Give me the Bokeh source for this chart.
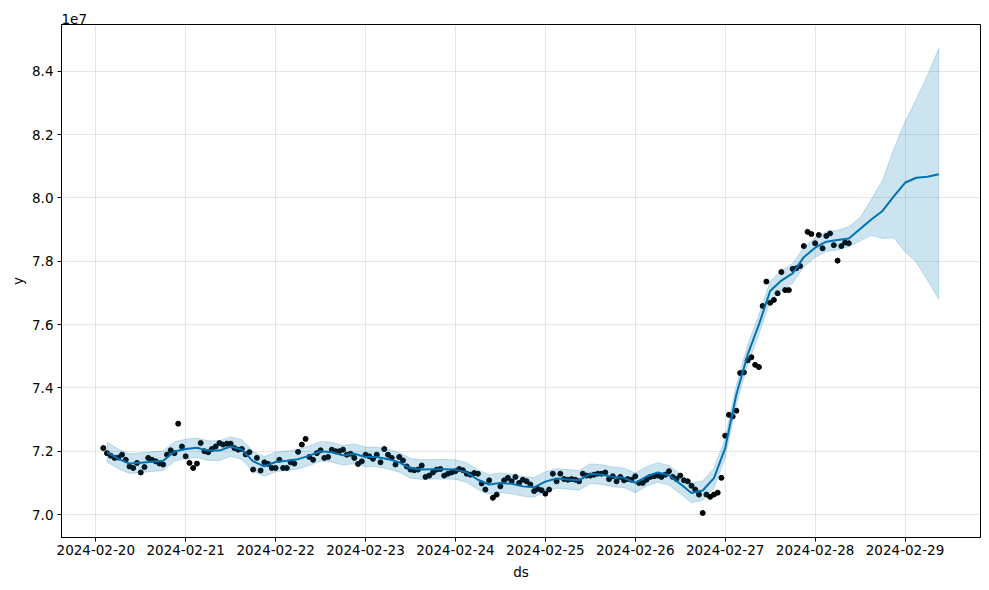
import pandas as pd
from bokeh.plotting import figure
from bokeh.models import FixedTicker, DatetimeTickFormatter, PrintfTickFormatter, Range1d
from bokeh.embed import file_html
from bokeh.resources import INLINE

# ---------------- data (values in units of 1e7) ----------------
obs_start = "2024-02-20 02:00"          # hourly observations
y_obs = [
    7.210, 7.194, 7.186, 7.179, 7.180, 7.189, 7.173, 7.152, 7.147, 7.163,
    7.133, 7.150, 7.179, 7.173, 7.168, 7.161, 7.158, 7.189, 7.203, 7.194,
    7.287, 7.215, 7.184, 7.163, 7.147, 7.161, 7.226, 7.200, 7.197, 7.207,
    7.215, 7.226, 7.221, 7.224, 7.224, 7.210, 7.205, 7.207, 7.190, 7.197,
    7.142, 7.179, 7.139, 7.165, 7.160, 7.147, 7.147, 7.173, 7.147, 7.147,
    7.165, 7.161, 7.198, 7.221, 7.239, 7.182, 7.173, 7.194, 7.203, 7.179,
    7.182, 7.205, 7.200, 7.200, 7.205, 7.189, 7.192, 7.179, 7.160, 7.168,
    7.189, 7.184, 7.176, 7.189, 7.165, 7.207, 7.189, 7.179, 7.158, 7.182,
    7.171, 7.152, 7.142, 7.140, 7.142, 7.155, 7.119, 7.123, 7.133, 7.142,
    7.144, 7.123, 7.129, 7.133, 7.137, 7.144, 7.140, 7.129, 7.126, 7.131,
    7.129, 7.098, 7.079, 7.108, 7.053, 7.063, 7.089, 7.108, 7.116, 7.105,
    7.119, 7.100, 7.110, 7.105, 7.095, 7.074, 7.081, 7.077, 7.066, 7.079,
    7.129, 7.105, 7.129, 7.112, 7.110, 7.112, 7.110, 7.105, 7.129, 7.123,
    7.123, 7.126, 7.129, 7.129, 7.133, 7.112, 7.121, 7.105, 7.119, 7.108,
    7.112, 7.110, 7.121, 7.100, 7.100, 7.110, 7.119, 7.121, 7.123, 7.119,
    7.126, 7.137, 7.119, 7.112, 7.123, 7.108, 7.105, 7.091, 7.079, 7.063,
    7.005, 7.063, 7.056, 7.063, 7.069, 7.116, 7.249, 7.315, 7.310, 7.328,
    7.447, 7.449, 7.487, 7.497, 7.473, 7.466, 7.659, 7.736, 7.669, 7.678,
    7.699, 7.766, 7.709, 7.709, 7.776, 7.778, 7.785, 7.848, 7.893, 7.886,
    7.857, 7.883, 7.841, 7.880, 7.888, 7.851, 7.802, 7.848, 7.859, 7.857,
]

fc_start = "2024-02-20 03:00"           # forecast every 3 hours
yhat = [
    7.197, 7.176, 7.161, 7.164, 7.167, 7.170, 7.199, 7.207, 7.211, 7.202,
    7.202, 7.215, 7.205, 7.168, 7.152, 7.166, 7.170, 7.175, 7.186, 7.200,
    7.197, 7.187, 7.192, 7.182, 7.182, 7.175, 7.165, 7.146, 7.142, 7.143,
    7.143, 7.142, 7.133, 7.110, 7.095, 7.100, 7.097, 7.089, 7.086, 7.104,
    7.114, 7.111, 7.108, 7.129, 7.126, 7.119, 7.116, 7.100, 7.120, 7.133,
    7.124, 7.097, 7.068, 7.076, 7.115, 7.210, 7.380, 7.505, 7.600, 7.706,
    7.739, 7.762, 7.813, 7.843, 7.862, 7.867, 7.872, 7.902, 7.932, 7.959,
    8.005, 8.048, 8.064, 8.067, 8.075,
]
yhat_upper = [
    7.228, 7.207, 7.192, 7.195, 7.198, 7.201, 7.230, 7.238, 7.242, 7.233,
    7.233, 7.246, 7.236, 7.199, 7.183, 7.197, 7.201, 7.206, 7.217, 7.231,
    7.228, 7.218, 7.223, 7.213, 7.213, 7.206, 7.196, 7.177, 7.173, 7.174,
    7.174, 7.173, 7.164, 7.141, 7.126, 7.131, 7.128, 7.120, 7.117, 7.135,
    7.145, 7.142, 7.139, 7.160, 7.157, 7.150, 7.147, 7.131, 7.151, 7.164,
    7.155, 7.128, 7.099, 7.107, 7.146, 7.241, 7.411, 7.536, 7.631, 7.737,
    7.770, 7.793, 7.844, 7.874, 7.893, 7.898, 7.909, 7.938, 7.995, 8.056,
    8.155, 8.240, 8.312, 8.388, 8.472,
]
yhat_lower = [
    7.166, 7.145, 7.130, 7.133, 7.136, 7.139, 7.168, 7.176, 7.180, 7.171,
    7.171, 7.184, 7.174, 7.137, 7.121, 7.135, 7.139, 7.144, 7.155, 7.169,
    7.166, 7.156, 7.161, 7.151, 7.151, 7.144, 7.134, 7.115, 7.111, 7.112,
    7.112, 7.111, 7.102, 7.079, 7.064, 7.069, 7.066, 7.058, 7.055, 7.073,
    7.083, 7.080, 7.077, 7.098, 7.095, 7.088, 7.085, 7.069, 7.089, 7.102,
    7.093, 7.066, 7.037, 7.045, 7.084, 7.179, 7.349, 7.474, 7.569, 7.675,
    7.708, 7.731, 7.782, 7.812, 7.831, 7.836, 7.846, 7.864, 7.882, 7.872,
    7.874, 7.830, 7.797, 7.740, 7.680,
]

x_tick_labels = ["2024-02-20", "2024-02-21", "2024-02-22", "2024-02-23", "2024-02-24",
                 "2024-02-25", "2024-02-26", "2024-02-27", "2024-02-28", "2024-02-29"]
y_ticks = [7.0, 7.2, 7.4, 7.6, 7.8, 8.0, 8.2, 8.4]

# ---------------- build ----------------
ds_obs = pd.date_range(obs_start, periods=len(y_obs), freq="h")
ds_fc = pd.date_range(fc_start, periods=len(yhat), freq="3h")

FONT = "DejaVu Sans"
FS = "13.5px"
BLUE = "#0072B2"

t0 = pd.Timestamp("2024-02-20")
x_start = t0 - pd.Timedelta(hours=9.15)
x_end = t0 + pd.Timedelta(hours=236.15)
y_lo, y_hi = 6.9275, 8.548

p = figure(width=981, height=582, x_axis_type="datetime",
           x_range=Range1d(x_start.to_pydatetime(), x_end.to_pydatetime()),
           y_range=Range1d(y_lo, y_hi),
           output_backend="svg", toolbar_location=None,
           min_border_left=61, min_border_right=1, min_border_top=24, min_border_bottom=44)

p.background_fill_color = "white"
p.border_fill_color = "white"
p.outline_line_color = "black"
p.outline_line_width = 1

p.title.text = "1e7"
p.title.text_font = FONT
p.title.text_font_size = FS
p.title.text_font_style = "normal"
p.title.text_color = "black"
p.title.align = "left"
p.title.standoff = 2

p.scatter(ds_obs, y_obs, size=5, color="black")
p.line(ds_fc, yhat, line_color=BLUE, line_width=2)
px = list(ds_fc) + list(ds_fc[::-1])
py = list(yhat_upper) + list(yhat_lower[::-1])
p.patch(px, py, fill_color=BLUE, fill_alpha=0.2, line_color=BLUE, line_alpha=0.2, line_width=1)

xt = [int(pd.Timestamp(s).value // 10**6) for s in x_tick_labels]
p.xaxis.ticker = FixedTicker(ticks=xt)
fmt = "%Y-%m-%d"
p.xaxis.formatter = DatetimeTickFormatter(days=fmt, hours=fmt, hourmin=fmt, minutes=fmt,
                                          months=fmt, years=fmt, minsec=fmt, seconds=fmt,
                                          milliseconds=fmt, microseconds=fmt)
p.yaxis.ticker = FixedTicker(ticks=y_ticks)
p.yaxis.formatter = PrintfTickFormatter(format="%.1f")

for ax in (p.xaxis, p.yaxis):
    ax.major_label_text_font = FONT
    ax.major_label_text_font_size = FS
    ax.major_label_text_color = "black"
    ax.axis_label_text_font = FONT
    ax.axis_label_text_font_size = FS
    ax.axis_label_text_font_style = "normal"
    ax.axis_label_text_color = "black"
    ax.axis_line_color = "black"
    ax.major_tick_line_color = "black"
    ax.major_tick_out = 4
    ax.major_tick_in = 0
    ax.minor_tick_line_color = None

p.xaxis.axis_label = "ds"
p.yaxis.axis_label = "y"
p.xaxis.major_label_standoff = 3
p.xaxis.axis_label_standoff = 6
p.yaxis.major_label_standoff = 4
p.yaxis.axis_label_standoff = 3

p.grid.grid_line_color = "gray"
p.grid.grid_line_alpha = 0.2
p.grid.grid_line_width = 1

open("out.html", "w").write(file_html(p, INLINE))
